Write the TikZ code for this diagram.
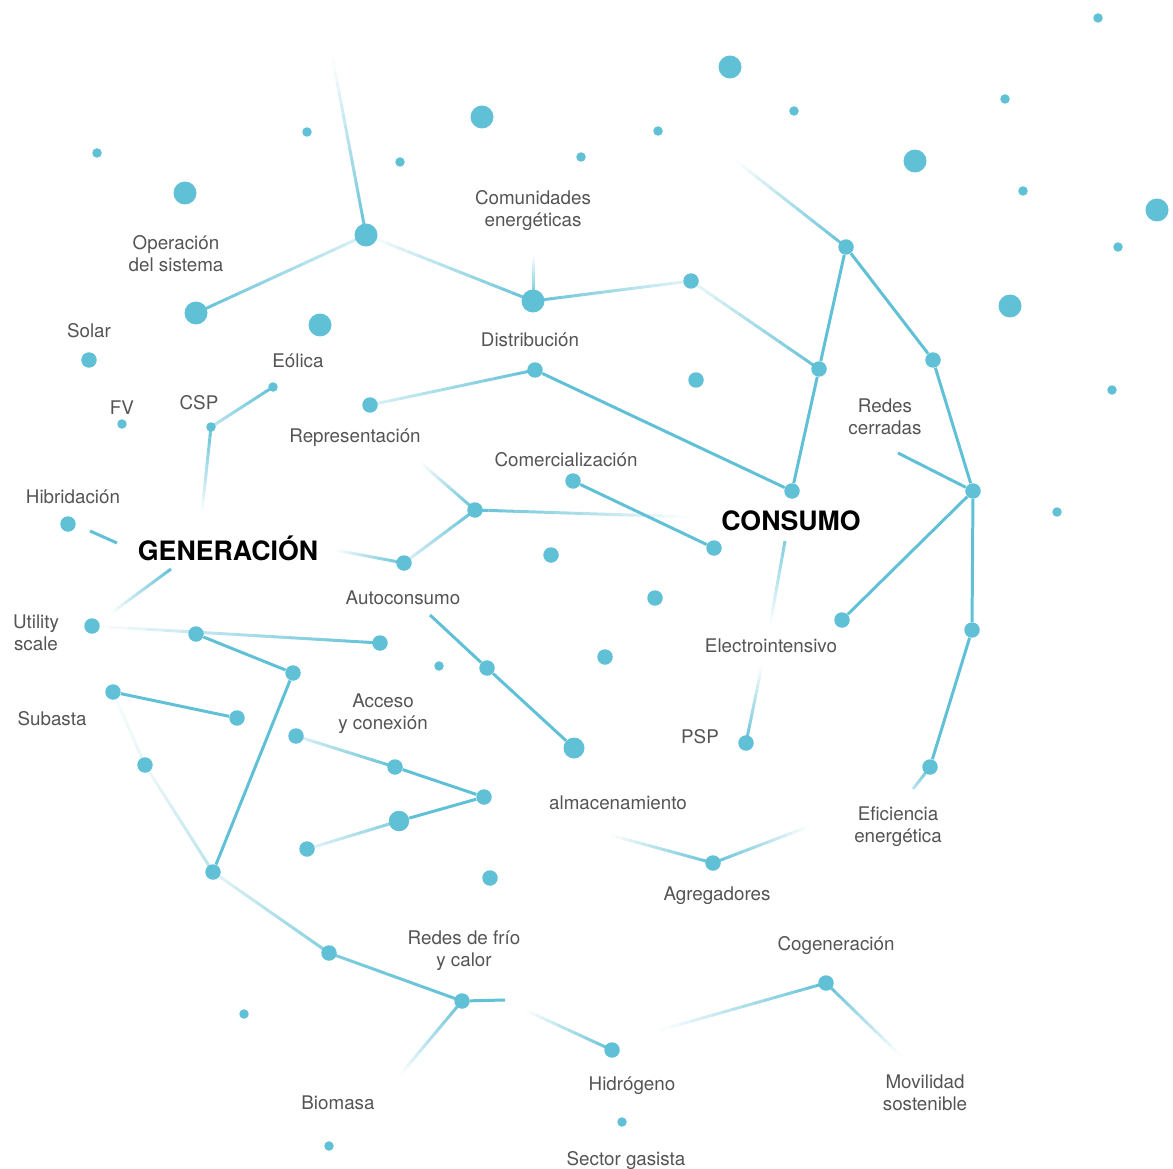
\documentclass[tikz,border=0pt]{standalone}
\usepackage{fontspec}
\setmainfont{TeX Gyre Heros}
\usepackage{tikz}
\usetikzlibrary{calc, backgrounds}

\definecolor{dotblue}{RGB}{96,192,214}
\definecolor{labelgray}{RGB}{84,84,84}

% line that fades from #3 to #4 percent between #1 and #2
\newcommand{\fadelink}[4]{%
  \foreach \k in {1,...,16}{%
    \pgfmathsetmacro{\segA}{(\k-1)/16}%
    \pgfmathsetmacro{\segB}{\k/16}%
    \pgfmathsetmacro{\segC}{(#3+(#4-#3)*(\k-0.5)/16)/100}%
    \draw[link, draw opacity=\segC] ($(#1)!\segA!(#2)$) -- ($(#1)!\segB!(#2)$);
  }}

\begin{document}
\begin{tikzpicture}[
    x=0.02cm, y=-0.02cm,
    dot/.style={circle, fill=dotblue, inner sep=0pt},
    big/.style={dot, minimum size=0.46cm},
    mid/.style={dot, minimum size=0.31cm},
    tiny/.style={dot, minimum size=0.19cm},
    link/.style={draw=dotblue, line width=1.7pt},
    lbl/.style={font=\fontsize{10.7}{12.5}\selectfont, text=labelgray, align=center, yshift=-0.04cm},
    hub/.style={font=\fontsize{15.2}{18}\selectfont\bfseries, text=black}
]
\useasboundingbox (0,0) rectangle (1173,1169);

% loose dots
\foreach \x/\y [count=\i] in {1098/18, 1005/99, 794/111, 307/132, 658/131, 97/153,
    581/157, 400/162, 1023/191, 1118/247, 1112/390, 122/424, 1057/512, 439/666,
    244/1014, 622/1122, 329/1146}
  \node[tiny] (t\i) at (\x,\y) {};
\foreach \x/\y [count=\i] in {730/67, 482/117, 915/161, 185/193, 1157/210, 1010/306, 320/325}
  \node[big] (b\i) at (\x,\y) {};
\foreach \x/\y [count=\i] in {89/360, 696/380, 551/555, 655/598, 605/657, 490/878, 68/524}
  \node[mid] (m\i) at (\x,\y) {};

% connected dots
\node[big] (hubA) at (366,235) {};
\node[big] (opS)  at (196,313) {};
\node[big] (comA) at (533,301) {};
\node[mid] (nT)   at (846,247) {};
\node[mid] (nC)   at (691,281) {};
\node[mid] (nR1)  at (933,360) {};
\node[mid] (nL)   at (819,369) {};
\node[mid] (dist) at (535,370) {};
\node[tiny] (eol) at (273,387) {};
\node[mid] (rep)  at (370,405) {};
\node[tiny] (csp) at (211,427) {};
\node[mid] (com)  at (573,481) {};
\node[mid] (cons) at (792,491) {};
\node[mid] (redc) at (973,491) {};
\node[mid] (autJ) at (475,510) {};
\node[mid] (com2) at (714,548) {};
\node[mid] (aut)  at (404,563) {};
\node[mid] (elec) at (842,620) {};
\node[mid] (util) at (92,626) {};
\node[mid] (ut2)  at (196,634) {};
\node[mid] (ef1)  at (972,630) {};
\node[mid] (ut3)  at (380,643) {};
\node[mid] (alm1) at (487,668) {};
\node[mid] (ut4)  at (293,673) {};
\node[mid] (sub)  at (113,692) {};
\node[mid] (sub2) at (237,718) {};
\node[mid] (acc)  at (296,736) {};
\node[mid] (psp)  at (746,743) {};
\node[big, minimum size=0.42cm] (alm) at (574,748) {};
\node[mid] (sub3) at (145,765) {};
\node[mid] (acc2) at (395,767) {};
\node[mid] (ef)   at (930,767) {};
\node[mid] (accJ) at (484,797) {};
\node[big, minimum size=0.41cm] (acc3) at (399,821) {};
\node[mid] (acc4) at (307,849) {};
\node[mid] (agr)  at (713,863) {};
\node[mid] (genB) at (213,872) {};
\node[mid] (red1) at (329,953) {};
\node[mid] (cog)  at (826,983) {};
\node[mid] (red)  at (462,1001) {};
\node[mid] (hid)  at (612,1050) {};

% free ends
\coordinate (eTop)  at (333,60);
\coordinate (eCom)  at (533,255);
\coordinate (eArc)  at (735,160);
\coordinate (eRedc) at (898,453);
\coordinate (eEf)   at (913,789);
\coordinate (eAutR) at (690,517);
\coordinate (eRep)  at (420,462);
\coordinate (eGenR) at (335,550);
\coordinate (eCsp)  at (202,512);
\coordinate (eHibA) at (90,531);
\coordinate (eHibB) at (117,543);
\coordinate (eGenA) at (171,569);
\coordinate (eGenB) at (110,614);
\coordinate (eRedR) at (505,1000);
\coordinate (eBio)  at (400,1075);
\coordinate (eHid)  at (525,1010);
\coordinate (eCogA) at (660,1030);
\coordinate (eMov)  at (900,1055);
\coordinate (eAgrA) at (610,835);
\coordinate (eAgrB) at (810,826);
\coordinate (eAlm)  at (430,615);
\coordinate (eConA) at (785,541);
\coordinate (eConB) at (770,625);
\coordinate (ePsp)  at (762,665);

\begin{scope}[on background layer]
\fadelink{eTop}{hubA}{0}{100}
\fadelink{hubA}{opS}{20}{100}
\fadelink{hubA}{comA}{0}{100}
\fadelink{eCom}{comA}{0}{100}
\fadelink{comA}{nC}{100}{15}
\fadelink{nC}{nL}{10}{100}
\fadelink{eArc}{nT}{0}{100}
\draw[link] (nT) -- (nL) -- (cons);
\draw[link] (nT) -- (nR1) -- (redc);
\draw[link] (eRedc) -- (redc);
\draw[link] (redc) -- (elec);
\draw[link] (redc) -- (ef1) -- (ef);
\fadelink{ef}{eEf}{100}{40}
\draw[link] (dist) -- (cons);
\fadelink{rep}{dist}{20}{100}
\draw[link] (com) -- (com2);
\fadelink{autJ}{eAutR}{100}{0}
\fadelink{eRep}{autJ}{0}{100}
\fadelink{autJ}{aut}{100}{20}
\fadelink{eGenR}{aut}{0}{100}
\fadelink{csp}{eol}{40}{100}
\fadelink{csp}{eCsp}{100}{0}
\draw[link] (eHibA) -- (eHibB);
\fadelink{eGenA}{eGenB}{100}{0}
\fadelink{util}{ut3}{0}{100}
\draw[link] (ut2) -- (ut4) -- (genB);
\draw[link] (sub) -- (sub2);
\fadelink{sub}{sub3}{5}{15}
\fadelink{sub3}{genB}{10}{45}
\fadelink{genB}{red1}{15}{80}
\fadelink{red1}{red}{80}{100}
\draw[link] (red) -- (eRedR);
\fadelink{red}{eBio}{100}{0}
\fadelink{eHid}{hid}{0}{100}
\fadelink{eCogA}{cog}{0}{100}
\fadelink{cog}{eMov}{100}{0}
\fadelink{eAgrA}{agr}{0}{100}
\fadelink{agr}{eAgrB}{100}{0}
\fadelink{acc}{acc2}{20}{100}
\draw[link] (acc2) -- (accJ) -- (acc3);
\fadelink{acc3}{acc4}{80}{15}
\draw[link] (eAlm) -- (alm1) -- (alm);
\fadelink{eConA}{eConB}{80}{0}
\fadelink{ePsp}{psp}{0}{100}
\end{scope}

% labels
\node[lbl] (lOper) at (176,252) {Operación\\del sistema};
\node[lbl] (lComu) at (533,209) {Comunidades\\energéticas};
\node[lbl] (lSol)  at (89,329)  {Solar};
\node[lbl] (lEol)  at (298,359) {Eólica};
\node[lbl] (lFV)   at (122,406) {FV};
\node[lbl] (lCSP)  at (199,401) {CSP};
\node[lbl] (lDist) at (530,338) {Distribución};
\node[lbl] (lRep)  at (355,436) {Representación};
\node[lbl] (lCom)  at (566,458) {Comercialización};
\node[lbl] (lHib)  at (73,495)  {Hibridación};
\node[hub] (lGen)  at (228,548) {GENERACIÓN};
\node[hub] (lCons) at (791,521) {CONSUMO};
\node[lbl] (lAut)  at (403,596) {Autoconsumo};
\node[lbl] (lRedc) at (885,415) {Redes\\cerradas};
\node[lbl] (lUtil) at (36,631)  {Utility\\scale};
\node[lbl] (lSub)  at (52,717)  {Subasta};
\node[lbl] (lElec) at (771,644) {Electrointensivo};
\node[lbl] (lAcc)  at (383,712) {Acceso\\y conexión};
\node[lbl] (lPSP)  at (700,735) {PSP};
\node[lbl] (lAlm)  at (618,801) {almacenamiento};
\node[lbl] (lEf)   at (898,825) {Eficiencia\\energética};
\node[lbl] (lAgr)  at (717,894) {Agregadores};
\node[lbl] (lRed)  at (464,949) {Redes de frío\\y calor};
\node[lbl] (lCog)  at (836,944) {Cogeneración};
\node[lbl] (lBio)  at (338,1101) {Biomasa};
\node[lbl] (lHid)  at (632,1084) {Hidrógeno};
\node[lbl] (lMov)  at (925,1091) {Movilidad\\sostenible};
\node[lbl] (lSG)   at (626,1159) {Sector gasista};

\end{tikzpicture}
\end{document}
